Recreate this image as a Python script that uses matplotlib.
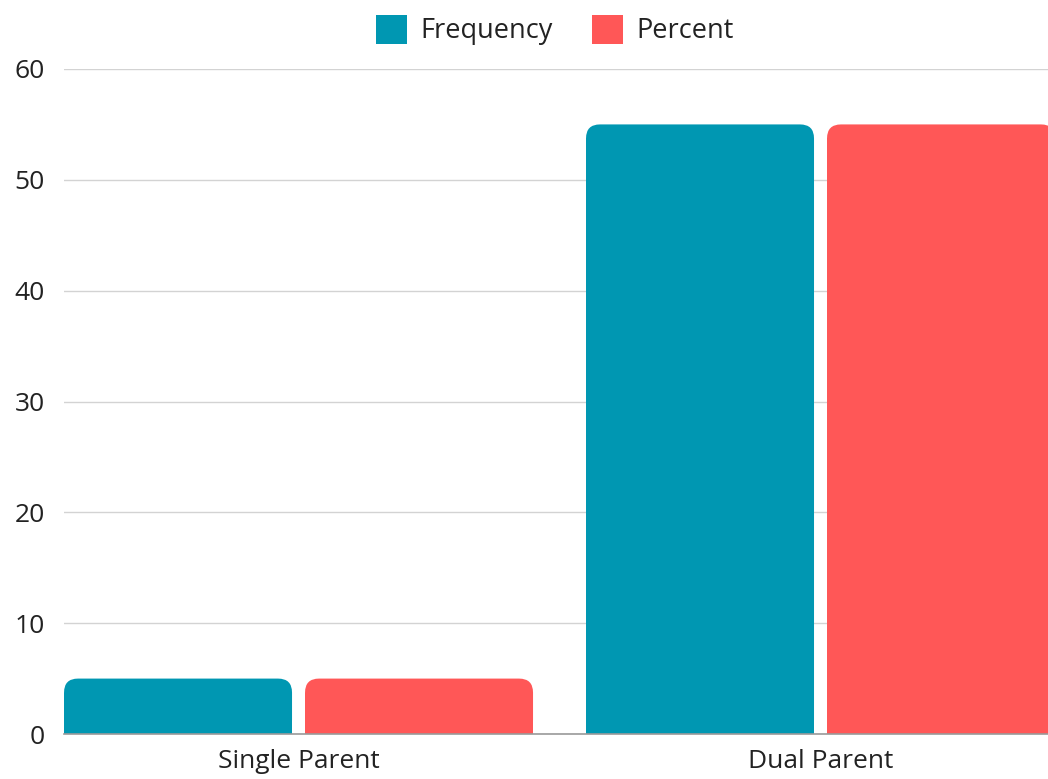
import matplotlib.pyplot as plt
from matplotlib.patches import FancyBboxPatch, Patch
import numpy as np

plt.rcParams['font.family'] = ['Open Sans', 'DejaVu Sans']

categories = ["Single Parent", "Dual Parent"]
frequency = [5, 55]
percent = [5, 55]
series_names = ["Frequency", "Percent"]
colors = ["#0097B2", "#FF5757"]
y_ticks = [0, 10, 20, 30, 40, 50, 60]

fig = plt.figure(figsize=(10.48, 7.79), dpi=100)
ax = fig.add_axes([64 / 1048, 1 - 734 / 779, 1 - 64 / 1048, (734 - 69) / 779])

x = np.arange(len(categories))
width = 0.4368
gap = 0.0249
offset = (width + gap) / 2

# corner radius in data units (about 14 px each way)
rx = 0.0268
ry = 1.26


def rounded_bars(xpos, values, color):
    bars = ax.bar(xpos, values, width, color=color, linewidth=0, zorder=3)
    for b in bars:
        bx, bw, bh = b.get_x(), b.get_width(), b.get_height()
        top = FancyBboxPatch((bx, 0), bw, bh,
                             boxstyle=f"round,pad=0,rounding_size={rx}",
                             mutation_aspect=ry / rx,
                             facecolor=color, edgecolor="none", zorder=3)
        ax.add_patch(top)
        b.set_height(bh - ry)
    return bars


rounded_bars(x - offset, frequency, colors[0])
rounded_bars(x + offset, percent, colors[1])

ax.set_xlim(-0.4493, 1.4358)
ax.set_ylim(0, 60)
ax.set_yticks(y_ticks)
ax.set_xticks(x)
ax.set_xticklabels(categories)

ax.yaxis.grid(True, color="#d3d3d3", linewidth=1)
ax.set_axisbelow(True)
for side in ["top", "right", "left"]:
    ax.spines[side].set_visible(False)
ax.spines["bottom"].set_color("#9a9a9a")
ax.spines["bottom"].set_linewidth(1.2)
ax.spines["bottom"].set_zorder(4)

ax.tick_params(axis="y", length=0, pad=14, labelsize=19, labelcolor="#222222")
ax.tick_params(axis="x", length=0, pad=11, labelsize=19, labelcolor="#222222")

handles = [Patch(facecolor=c, edgecolor="none") for c in colors]
fig.legend(handles, series_names, loc="center", bbox_to_anchor=(555 / 1048, 1 - 30 / 779),
           ncol=2, frameon=False, fontsize=19.5, handlelength=1.15, handleheight=1.3,
           handletextpad=0.48, columnspacing=1.45, labelcolor="#222222")

fig.savefig("out.png", dpi=100)
